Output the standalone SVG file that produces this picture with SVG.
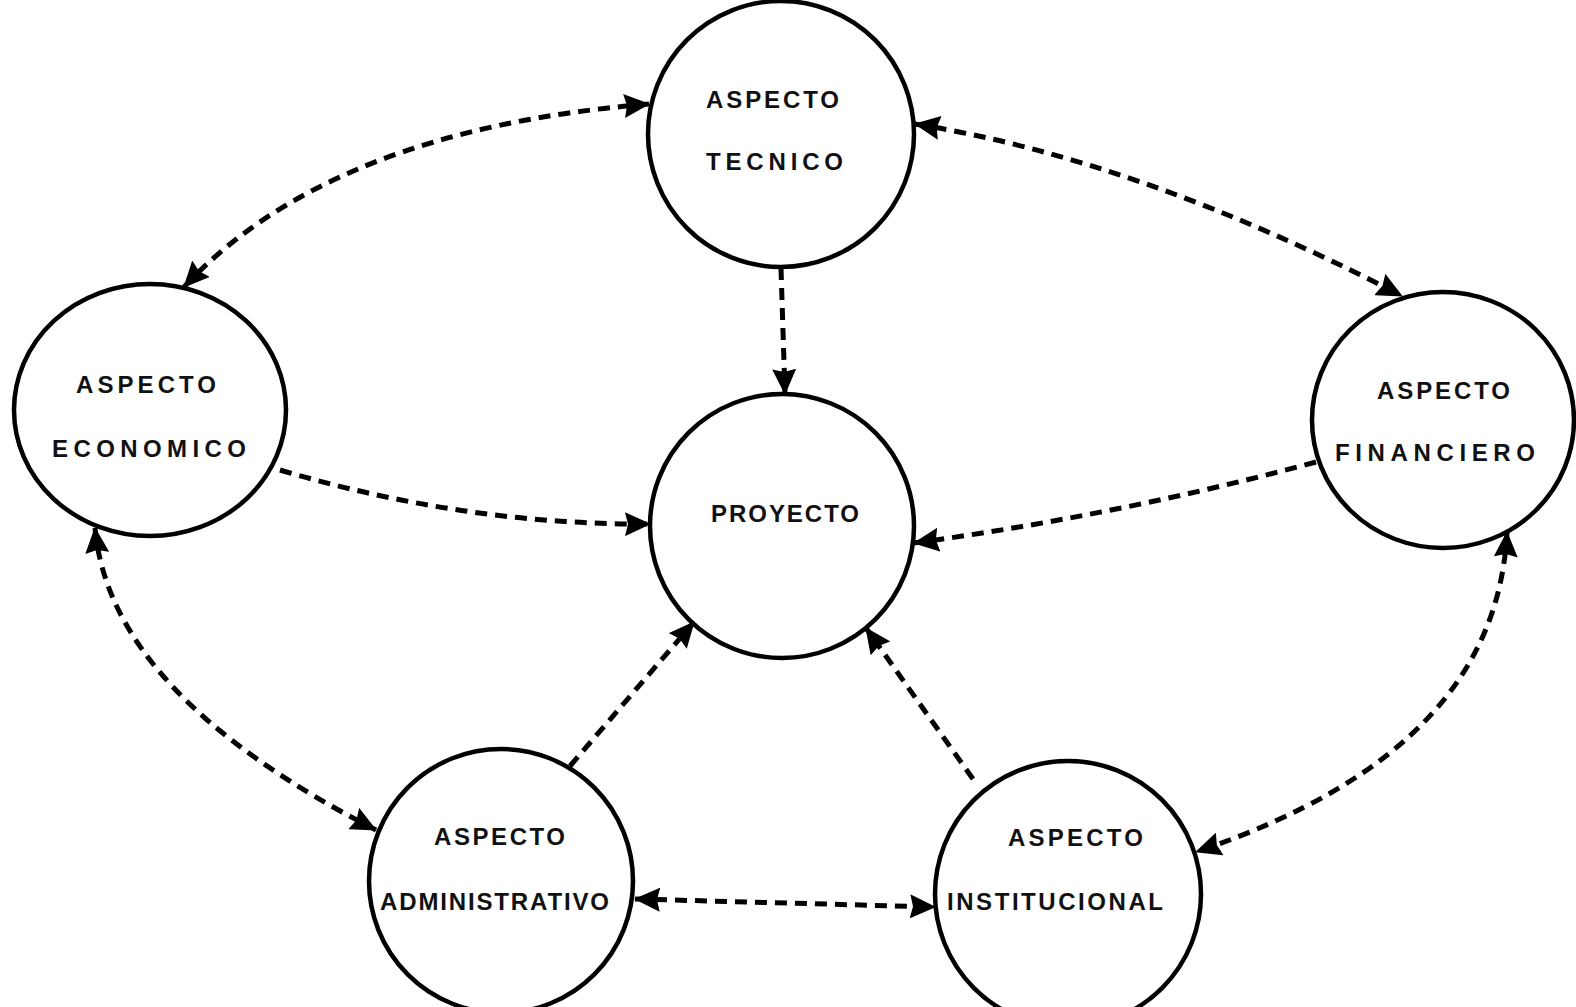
<svg xmlns="http://www.w3.org/2000/svg" width="1576" height="1007" viewBox="0 0 1576 1007">
<style>
.node{fill:none;stroke:#000;stroke-width:4.5}
.lbl{font-family:"Liberation Sans",Arial,sans-serif;font-weight:bold;font-size:24px;fill:#111}
.con{fill:none;stroke:#000;stroke-width:5;stroke-dasharray:12 8}
</style>
<defs>
<marker id="ah" viewBox="0 0 26 24" refX="25" refY="12" markerWidth="26" markerHeight="24" markerUnits="userSpaceOnUse" orient="auto-start-reverse">
<path d="M0,0 L26,12 L0,24 L3,12 z" fill="#000"/>
</marker>
</defs>
<rect width="1576" height="1007" fill="#fff"/>
<g id="connectors">
<path class="con" d="M184,287 Q330,130 649,104" marker-start="url(#ah)" marker-end="url(#ah)"/>
<path class="con" d="M915,124 Q1140,160 1402,296" marker-start="url(#ah)" marker-end="url(#ah)"/>
<path class="con" d="M781,268 L785,394" marker-end="url(#ah)"/>
<path class="con" d="M280,470 Q465,525 650,524" marker-end="url(#ah)"/>
<path class="con" d="M1316,462 Q1120,515 914,543" marker-end="url(#ah)"/>
<path class="con" d="M95,528 C105,640 200,740 376,830" marker-start="url(#ah)" marker-end="url(#ah)"/>
<path class="con" d="M570,766 L694,622" marker-end="url(#ah)"/>
<path class="con" d="M973,779 L866,628" marker-end="url(#ah)"/>
<path class="con" d="M635,899 L935,907" marker-start="url(#ah)" marker-end="url(#ah)"/>
<path class="con" d="M1507,532 C1500,670 1410,780 1196,852" marker-start="url(#ah)" marker-end="url(#ah)"/>
</g>
<g id="tecnico">
<circle class="node" cx="781" cy="134" r="133"/>
<text class="lbl" x="706" y="108" textLength="133" lengthAdjust="spacing">ASPECTO</text>
<text class="lbl" x="706" y="170" textLength="137" lengthAdjust="spacing">TECNICO</text>
</g>
<g id="economico">
<ellipse class="node" cx="150" cy="410" rx="136" ry="126"/>
<text class="lbl" x="76" y="393" textLength="140" lengthAdjust="spacing">ASPECTO</text>
<text class="lbl" x="52" y="457" textLength="194" lengthAdjust="spacing">ECONOMICO</text>
</g>
<g id="proyecto">
<circle class="node" cx="782" cy="526" r="132"/>
<text class="lbl" x="711" y="522" textLength="148" lengthAdjust="spacing">PROYECTO</text>
</g>
<g id="financiero">
<ellipse class="node" cx="1443" cy="420" rx="131" ry="128"/>
<text class="lbl" x="1377" y="399" textLength="133" lengthAdjust="spacing">ASPECTO</text>
<text class="lbl" x="1335" y="461" textLength="200" lengthAdjust="spacing">FINANCIERO</text>
</g>
<g id="administrativo">
<circle class="node" cx="501" cy="881" r="132"/>
<text class="lbl" x="434" y="845" textLength="131" lengthAdjust="spacing">ASPECTO</text>
<text class="lbl" x="380" y="910" textLength="229" lengthAdjust="spacing">ADMINISTRATIVO</text>
</g>
<g id="institucional">
<circle class="node" cx="1068" cy="894" r="133"/>
<text class="lbl" x="1008" y="846" textLength="135" lengthAdjust="spacing">ASPECTO</text>
<text class="lbl" x="947" y="910" textLength="216" lengthAdjust="spacing">INSTITUCIONAL</text>
</g>
</svg>
